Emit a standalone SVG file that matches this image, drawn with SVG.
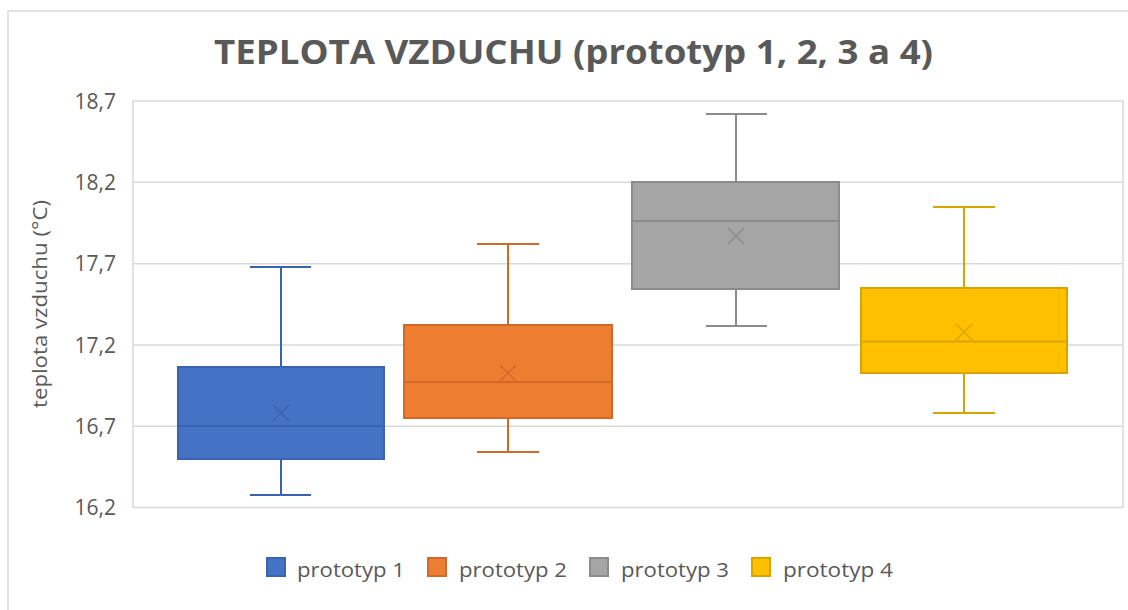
<svg xmlns="http://www.w3.org/2000/svg" width="1128" height="610" viewBox="0 0 1128 610">
<style>
  .t { font-family: "Open Sans", "Liberation Sans", sans-serif; fill: #595959; }
  .title { font-size: 34px; font-weight: bold; }
  .tick { font-size: 21px; text-anchor: end; }
  .axt { font-size: 20px; text-anchor: middle; }
  .leg { font-size: 20px; }
  .grid { stroke: #D9D9D9; stroke-width: 1.5; fill: none; }
  .s1 .box { fill: #4472C4; stroke: #3A63B0; }
  .s1 .ln { stroke: #3A63B0; }
  .s2 .box { fill: #ED7D31; stroke: #D2692A; }
  .s2 .ln { stroke: #D2692A; }
  .s3 .box { fill: #A5A5A5; stroke: #8C8C8C; }
  .s3 .ln { stroke: #8C8C8C; }
  .s4 .box { fill: #FFC000; stroke: #D9A300; }
  .s4 .ln { stroke: #D9A300; }
  .box { stroke-width: 2; }
  .ln { stroke-width: 2; fill: none; }
  .mk { stroke-width: 1.5; fill: none; }
</style>
<rect x="0" y="0" width="1128" height="610" fill="#FFFFFF"/>
<path d="M8 612 V11 H1130" class="grid"/>
<text class="t title" x="214" y="64" textLength="719" lengthAdjust="spacingAndGlyphs">TEPLOTA VZDUCHU (prototyp 1, 2, 3 a 4)</text>
<g id="axes">
  <path class="grid" d="M133 182.3 H1123 M133 263.7 H1123 M133 345 H1123 M133 426.3 H1123"/>
  <rect class="grid" x="133" y="101" width="990" height="406.5"/>
  <text class="t tick" x="116" y="108.5">18,7</text>
  <text class="t tick" x="116" y="189.8">18,2</text>
  <text class="t tick" x="116" y="271.2">17,7</text>
  <text class="t tick" x="116" y="352.5">17,2</text>
  <text class="t tick" x="116" y="433.8">16,7</text>
  <text class="t tick" x="116" y="515">16,2</text>
  <text class="t axt" transform="translate(47,304) rotate(-90)" textLength="208" lengthAdjust="spacingAndGlyphs">teplota vzduchu (°C)</text>
</g>
<g id="connectors">
  <g class="s1"><path class="ln" d="M281 367 V267 M250 267 H311 M281 459 V495 M250 495 H311"/></g>
  <g class="s2"><path class="ln" d="M508 325 V244 M477 244 H539 M508 418 V452 M477 452 H539"/></g>
  <g class="s3"><path class="ln" d="M736 182 V114 M706 114 H767 M736 289 V326 M706 326 H767"/></g>
  <g class="s4"><path class="ln" d="M964 288 V207 M933 207 H995 M964 373 V413 M933 413 H995"/></g>
</g>
<g id="prototyp1" class="s1">
  <rect class="box" x="178" y="367" width="206" height="92"/>
  <path class="ln" d="M178 426 H384"/>
  <path class="ln mk" d="M273 405 L289 421 M289 405 L273 421"/>
</g>
<g id="prototyp2" class="s2">
  <rect class="box" x="404" y="325" width="208" height="93"/>
  <path class="ln" d="M404 382 H612"/>
  <path class="ln mk" d="M500 365 L516 381 M516 365 L500 381"/>
</g>
<g id="prototyp3" class="s3">
  <rect class="box" x="632" y="182" width="207" height="107"/>
  <path class="ln" d="M632 221 H839"/>
  <path class="ln mk" d="M728 228 L744 244 M744 228 L728 244"/>
</g>
<g id="prototyp4" class="s4">
  <rect class="box" x="861" y="288" width="206" height="85"/>
  <path class="ln" d="M861 341.5 H1067"/>
  <path class="ln mk" d="M956 324 L972 340 M972 324 L956 340"/>
</g>
<g id="legend">
  <g class="s1"><rect class="box" x="267" y="558" width="18" height="18" stroke-width="1"/><text class="t leg" x="297" y="577" textLength="108" lengthAdjust="spacingAndGlyphs">prototyp 1</text></g>
  <g class="s2"><rect class="box" x="428" y="558" width="18" height="18" stroke-width="1"/><text class="t leg" x="459" y="577" textLength="108" lengthAdjust="spacingAndGlyphs">prototyp 2</text></g>
  <g class="s3"><rect class="box" x="590" y="558" width="18" height="18" stroke-width="1"/><text class="t leg" x="621" y="577" textLength="108" lengthAdjust="spacingAndGlyphs">prototyp 3</text></g>
  <g class="s4"><rect class="box" x="752" y="558" width="18" height="18" stroke-width="1"/><text class="t leg" x="783" y="577" textLength="110" lengthAdjust="spacingAndGlyphs">prototyp 4</text></g>
</g>
</svg>
